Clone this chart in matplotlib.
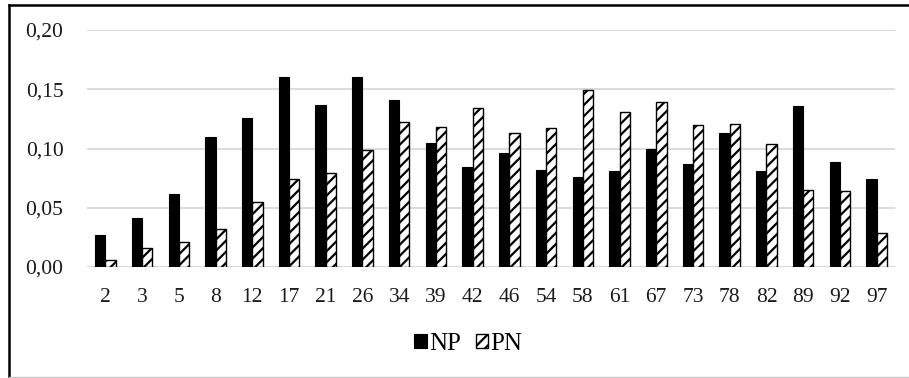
import matplotlib.pyplot as plt
import numpy as np
from matplotlib.lines import Line2D

plt.rcParams['font.family'] = ['Liberation Serif', 'DejaVu Serif']
plt.rcParams['hatch.linewidth'] = 1.6

# kategorier och värden
kategorier = ["2", "3", "5", "8", "12", "17", "21", "26", "34", "39", "42",
              "46", "54", "58", "61", "67", "73", "78", "82", "89", "92", "97"]
np_varden = [0.027, 0.041, 0.062, 0.110, 0.126, 0.160, 0.137, 0.160, 0.141, 0.105, 0.084,
             0.096, 0.082, 0.076, 0.081, 0.100, 0.087, 0.113, 0.081, 0.136, 0.089, 0.074]
pn_varden = [0.006, 0.016, 0.021, 0.032, 0.055, 0.074, 0.079, 0.099, 0.122, 0.118, 0.134,
             0.113, 0.117, 0.149, 0.131, 0.139, 0.120, 0.121, 0.104, 0.065, 0.064, 0.029]
yticks = [0.0, 0.05, 0.10, 0.15, 0.20]
ytick_labels = ["0,00", "0,05", "0,10", "0,15", "0,20"]

fig = plt.figure(figsize=(9.09, 3.78), dpi=100)
ax = fig.add_axes([87/909, 1-267/378, (895-87)/909, (267-30)/378])

x = np.arange(len(kategorier))
b = 0.28
ax.bar(x - b/2, np_varden, b, color='black', edgecolor='black', linewidth=0.8, label='NP', zorder=3)
ax.bar(x + b/2, pn_varden, b, color='white', edgecolor='black', hatch='///', linewidth=1.0, label='PN', zorder=3)

ax.set_xlim(-0.5, len(kategorier) - 0.5)
ax.set_ylim(0, 0.20)
ax.set_yticks(yticks)
ax.set_yticklabels(ytick_labels)
ax.set_xticks(x)
ax.set_xticklabels(kategorier)
ax.tick_params(length=0, labelsize=15.5, colors='#1a1a1a')
ax.tick_params(axis='y', pad=17)
ax.tick_params(axis='x', pad=15)
ax.grid(axis='y', color='#d9d9d9', linewidth=1.3, zorder=0)
for s in ax.spines.values():
    s.set_visible(False)
ax.axhline(0, color='#d9d9d9', linewidth=1.3, zorder=1)

fig.legend(loc='center', bbox_to_anchor=(0.515, 1-344/378), ncol=2, frameon=False,
           fontsize=18, handlelength=0.5, handleheight=0.5, handletextpad=0.08,
           columnspacing=0.6)

# ram runt figuren
fig.add_artist(Line2D([9/909, 9/909], [0, 1-5/378], color='black', linewidth=1.8, transform=fig.transFigure))
fig.add_artist(Line2D([9/909, 1], [1-5/378, 1-5/378], color='black', linewidth=1.8, transform=fig.transFigure))
fig.add_artist(Line2D([9/909, 1], [1-376.5/378, 1-376.5/378], color='#c8c8c8', linewidth=1.0, transform=fig.transFigure))

fig.savefig("out.png", dpi=100)
